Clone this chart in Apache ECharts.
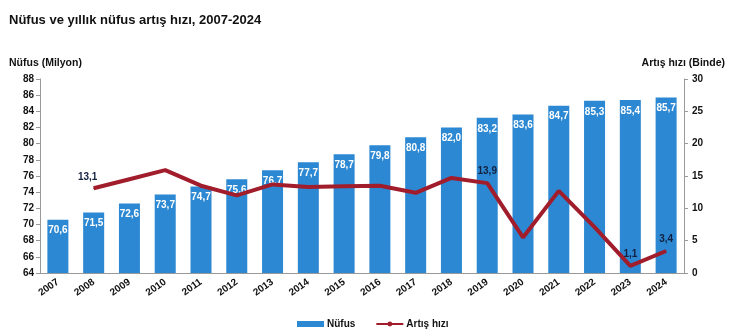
<!DOCTYPE html>
<html>
<head>
<meta charset="utf-8">
<script src="https://cdn.jsdelivr.net/npm/echarts@6/dist/echarts.min.js"></script>
<style>
  html, body { margin: 0; padding: 0; background: #fff; }
  #chart { width: 749px; height: 334px; }
</style>
</head>
<body>
<div id="chart"></div>
<script>
// Yıllar
const years = ['2007','2008','2009','2010','2011','2012','2013','2014','2015','2016','2017','2018','2019','2020','2021','2022','2023','2024'];
// Nüfus (milyon)
const population = [70.6, 71.5, 72.6, 73.7, 74.7, 75.6, 76.7, 77.7, 78.7, 79.8, 80.8, 82.0, 83.2, 83.6, 84.7, 85.3, 85.4, 85.7];
// Yıllık nüfus artış hızı (binde); 2007 için değer yok
const growth = [null, 13.1, 14.5, 15.9, 13.5, 12.0, 13.7, 13.3, 13.4, 13.5, 12.4, 14.7, 13.9, 5.5, 12.7, 7.1, 1.1, 3.4];
// Etiketi gösterilen yıllar
const labelledYears = ['2008', '2019', '2023', '2024'];

const fmt = v => String(v.toFixed(1)).replace('.', ',');
const FONT = '"Liberation Sans", Arial, sans-serif';

const chart = echarts.init(document.getElementById('chart'));
chart.setOption({
  animation: false,
  textStyle: { fontFamily: FONT },
  title: {
    text: 'Nüfus ve yıllık nüfus artış hızı, 2007-2024',
    left: 4, top: 9,
    textStyle: { fontSize: 13, fontWeight: 'bold', color: '#111', fontFamily: FONT }
  },
  legend: {
    bottom: 0, left: 292,
    itemWidth: 27, itemHeight: 6, itemGap: 20,
    textStyle: { fontSize: 10, fontWeight: 'bold', color: '#111', fontFamily: FONT, padding: [0, 0, 0, -2] },
    data: [
      { name: 'Nüfus', icon: 'rect' },
      { name: 'Artış hızı' }
    ]
  },
  grid: { left: 40, right: 65, top: 79, bottom: 61 },
  xAxis: {
    type: 'category',
    data: years,
    axisLine: { lineStyle: { color: '#999' } },
    axisTick: { alignWithLabel: false, length: 4, lineStyle: { color: '#999' } },
    axisLabel: { rotate: 35, fontSize: 10, fontWeight: 'bold', color: '#111', margin: 8, interval: 0 }
  },
  yAxis: [
    {
      type: 'value', min: 64, max: 88, interval: 2,
      name: 'Nüfus (Milyon)',
      nameLocation: 'end', nameGap: 10,
      nameTextStyle: { fontSize: 10.5, fontWeight: 'bold', color: '#111', align: 'left', padding: [0, 0, 0, -31] },
      axisLine: { show: true, lineStyle: { color: '#999' } },
      axisTick: { show: true, length: 4, lineStyle: { color: '#999' } },
      axisLabel: { fontSize: 10, fontWeight: 'bold', color: '#111', margin: 6 },
      splitLine: { show: false }
    },
    {
      type: 'value', min: 0, max: 30, interval: 5,
      name: 'Artış hızı (Binde)',
      nameLocation: 'end', nameGap: 10,
      nameTextStyle: { fontSize: 10.5, fontWeight: 'bold', color: '#111', align: 'right', padding: [0, -41, 0, 0] },
      axisLine: { show: true, lineStyle: { color: '#999' } },
      axisTick: { show: true, length: 4, lineStyle: { color: '#999' } },
      axisLabel: { fontSize: 10, fontWeight: 'bold', color: '#111', margin: 8 },
      splitLine: { show: false }
    }
  ],
  series: [
    {
      name: 'Nüfus',
      type: 'bar',
      yAxisIndex: 0,
      data: population,
      barWidth: 21,
      itemStyle: { color: '#2C88D2' },
      label: {
        show: true, position: 'insideTop', distance: 6,
        formatter: p => fmt(p.value),
        color: '#fff', fontSize: 10, fontWeight: 'bold'
      }
    },
    {
      name: 'Artış hızı',
      type: 'line',
      yAxisIndex: 1,
      data: growth.map((v, i) => ({
        value: v,
        label: {
          show: labelledYears.includes(years[i]),
          offset: years[i] === '2008' ? [-6, 0] : [0, 0]
        }
      })),
      symbol: 'circle',
      symbolSize: 1,
      showSymbol: true,
      connectNulls: false,
      lineStyle: { color: '#A11D2B', width: 4 },
      itemStyle: { color: '#A11D2B' },
      label: {
        show: false,
        position: 'top', distance: 6,
        formatter: p => fmt(p.value),
        color: '#13203f', fontSize: 10, fontWeight: 'bold'
      }
    }
  ]
});
</script>
</body>
</html>
